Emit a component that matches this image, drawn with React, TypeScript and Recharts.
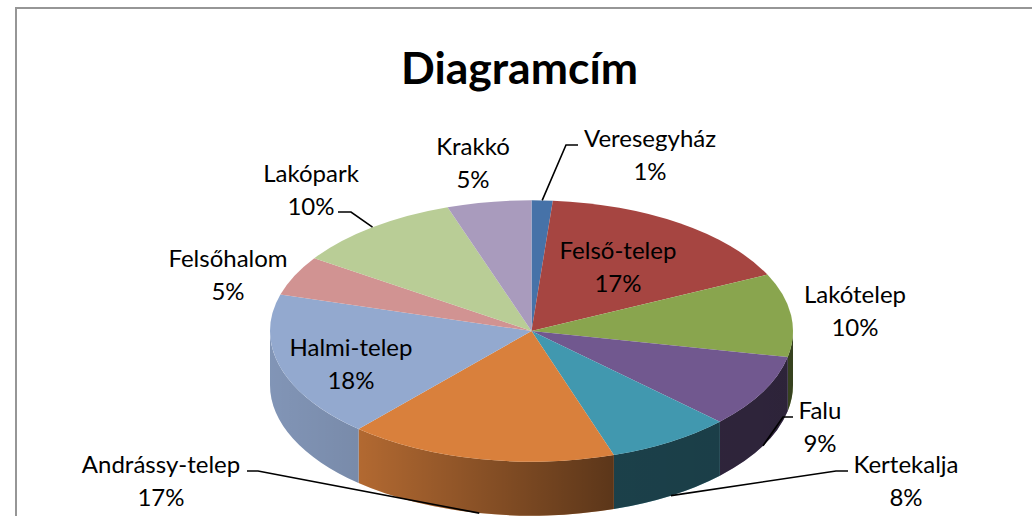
import { PieChart, Pie } from 'recharts';

const categories = ['Veresegyház', 'Felső-telep', 'Lakótelep', 'Falu', 'Kertekalja', 'Andrássy-telep', 'Halmi-telep', 'Felsőhalom', 'Lakópark', 'Krakkó'];
const values = [1.3, 16.6, 10.3, 9.0, 7.7, 16.6, 18.0, 4.9, 10.4, 5.2];
const colors = ['#4672A8', '#A64541', '#89A54E', '#71588F', '#4198AF', '#D9803C', '#93A9CF', '#D19392', '#B9CD96', '#A99BBD'];

const chartData = categories.map((name, i) => ({ name, value: values[i], fill: colors[i] }));

// pie is tilted: the vertical radius is half of the horizontal one, plus a side wall
const TILT = 0.5;
const DEPTH = 54;
const FONT = 'Lato, "Open Sans", sans-serif';
const LABEL_SIZE = 24;
const RAD = Math.PI / 180;

// label anchor (centre x, first baseline) and elbow of the leader line, where there is one
const labelLayout = [
  { x: 650, y: 147, elbow: [566, 145, 578, 145] },
  { x: 618, y: 259 },
  { x: 855, y: 303 },
  { x: 820, y: 419, elbow: [783, 417, 793, 417] },
  { x: 906, y: 473, elbow: [836, 471, 848, 471] },
  { x: 161, y: 473, elbow: [258, 471, 247, 471] },
  { x: 351, y: 356 },
  { x: 228, y: 267 },
  { x: 311, y: 182, elbow: [351, 212, 338, 212] },
  { x: 473, y: 155 },
];

const Slice3D = (props: any) => {
  const { cx, cy, outerRadius, startAngle, endAngle, fill } = props;
  const rx = outerRadius;
  const ry = outerRadius * TILT;
  const pt = (a: number, dy = 0) => `${cx + rx * Math.cos(a * RAD)} ${cy - ry * Math.sin(a * RAD) + dy}`;
  const large = startAngle - endAngle > 180 ? 1 : 0;
  const top = `M${cx} ${cy} L${pt(startAngle)} A${rx} ${ry} 0 ${large} 1 ${pt(endAngle)} Z`;

  // only the part of the rim on the front half has a visible wall
  const hi = Math.min(startAngle, 0);
  const lo = Math.max(endAngle, -180);
  const wall = hi > lo
    ? `M${pt(hi)} A${rx} ${ry} 0 0 1 ${pt(lo)} L${pt(lo, DEPTH)} A${rx} ${ry} 0 0 0 ${pt(hi, DEPTH)} Z`
    : null;

  return (
    <g>
      {wall && <path d={wall} fill={fill} />}
      {wall && <path d={wall} fill="url(#wallShade)" />}
      <path d={top} fill={fill} />
    </g>
  );
};

const renderLabel = (props: any) => {
  const { index, name, percent, midAngle, cx, cy, outerRadius } = props;
  const layout = labelLayout[index];
  const rimX = cx + outerRadius * Math.cos(midAngle * RAD);
  const sin = Math.sin(midAngle * RAD);
  // the leader starts on the rim, at the bottom of the wall for front slices
  const rimY = cy - outerRadius * TILT * sin + (sin < 0 ? DEPTH : 0);
  return (
    <g>
      {layout.elbow && (
        <polyline
          points={`${rimX},${rimY} ${layout.elbow[0]},${layout.elbow[1]} ${layout.elbow[2]},${layout.elbow[3]}`}
          fill="none"
          stroke="#000"
          strokeWidth={1.6}
        />
      )}
      <text x={layout.x} y={layout.y} textAnchor="middle" fontFamily={FONT} fontSize={LABEL_SIZE} fill="#000">
        {name}
      </text>
      <text x={layout.x} y={layout.y + 32.5} textAnchor="middle" fontFamily={FONT} fontSize={LABEL_SIZE} fill="#000">
        {`${Math.round(percent * 100)}%`}
      </text>
    </g>
  );
};

export default function App() {
  return (
    <div style={{ position: 'absolute', left: 0, top: 0, width: 1032, height: 516, overflow: 'hidden', background: '#fff' }}>
      <PieChart width={1032} height={516} margin={{ top: 0, right: 0, bottom: 0, left: 0 }}>
        <defs>
          <linearGradient id="wallShade" gradientUnits="userSpaceOnUse" x1={270} x2={793} y1={0} y2={0}>
            <stop offset="0%" stopColor="#000" stopOpacity={0.12} />
            <stop offset="17%" stopColor="#000" stopOpacity={0.18} />
            <stop offset="66%" stopColor="#000" stopOpacity={0.58} />
            <stop offset="100%" stopColor="#000" stopOpacity={0.6} />
          </linearGradient>
        </defs>
        <path d="M16 516 L16 8 L1032 8" fill="none" stroke="#969696" strokeWidth={2} />
        <text x={519.5} y={84} textAnchor="middle" fontFamily={FONT} fontSize={44.5} fontWeight={700} fill="#000">
          Diagramcím
        </text>
        <Pie
          data={chartData}
          dataKey="value"
          nameKey="name"
          cx={531.5}
          cy={331}
          outerRadius={261.5}
          startAngle={90}
          endAngle={-270}
          stroke="none"
          shape={Slice3D}
          label={renderLabel}
          labelLine={false}
          isAnimationActive={false}
        />
      </PieChart>
    </div>
  );
}
